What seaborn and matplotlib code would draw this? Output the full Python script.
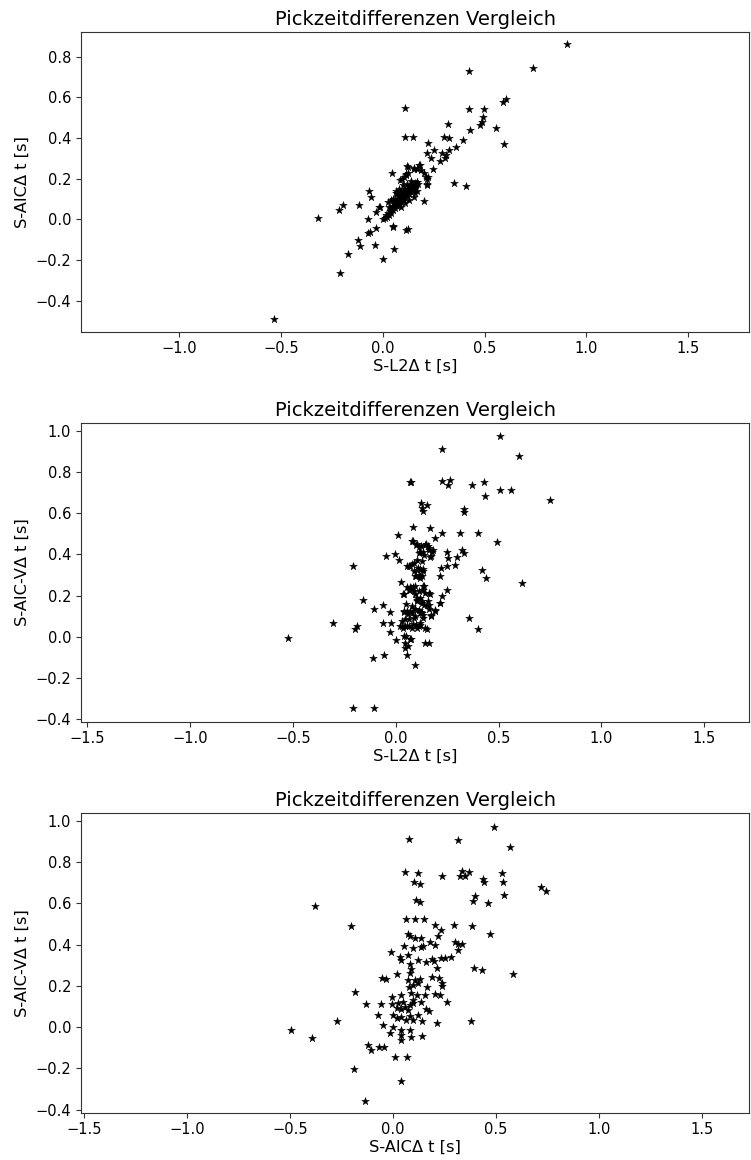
import matplotlib
matplotlib.use("Agg")
import matplotlib.pyplot as plt
import seaborn as sns

# ---------------- data ----------------
# Panel 1: S-L2 dt (x) vs S-AIC dt (y)
p1_x = [0.425, 0.738, 0.905, 0.112, 0.422, 0.499, 0.589, 0.605, 0.494, 0.486, 0.478, 0.322,
        0.430, 0.556, 0.594, 0.109, 0.147, 0.299, 0.327, 0.394, 0.222, 0.361, 0.253, 0.325,
        0.217, 0.289, 0.311, 0.238, 0.307, 0.281, 0.181, 0.125, 0.152, 0.171, 0.245, 0.045,
        0.115, 0.204, 0.083, 0.103, 0.212, 0.217, 0.348, 0.409, 0.217, 0.171, 0.163, -0.069,
        -0.055, 0.066, 0.073, 0.204, 0.026, -0.017, -0.194, -0.214, -0.117, -0.317, -0.032,
        -0.074, 0.053, 0.049, 0.125, 0.117, -0.033, -0.064, -0.073, -0.120, -0.112, -0.038,
        0.057, -0.168, 0.003, -0.210, -0.533,
        0.094, 0.114, 0.125, 0.122, 0.155, 0.179, 0.188, 0.221, 0.216, -0.014, 0.040,
        0.000, 0.010, 0.015, 0.020, 0.025, 0.030, 0.035, 0.040, 0.040, 0.045, 0.050, 0.050,
        0.055, 0.060, 0.060, 0.065, 0.070, 0.070, 0.075, 0.080, 0.080, 0.085, 0.090, 0.090,
        0.095, 0.100, 0.100, 0.105, 0.110, 0.110, 0.115, 0.120, 0.120, 0.125, 0.130, 0.130,
        0.135, 0.140, 0.140, 0.145, 0.150, 0.150, 0.155, 0.160, 0.160, 0.165, 0.170, 0.175,
        0.060, 0.075, 0.090, 0.105, 0.065, 0.081, 0.030, 0.050, 0.100, 0.120, 0.140, 0.155,
        0.130, 0.110, 0.090, 0.170, 0.160]
p1_y = [0.730, 0.745, 0.861, 0.547, 0.541, 0.541, 0.576, 0.591, 0.501, 0.480, 0.463, 0.468,
        0.437, 0.450, 0.370, 0.403, 0.406, 0.406, 0.398, 0.388, 0.375, 0.355, 0.341, 0.341,
        0.324, 0.324, 0.316, 0.303, 0.300, 0.288, 0.267, 0.259, 0.251, 0.246, 0.246, 0.229,
        0.223, 0.226, 0.193, 0.209, 0.209, 0.201, 0.177, 0.164, 0.169, 0.185, 0.173, 0.138,
        0.111, 0.139, 0.128, 0.090, 0.087, 0.062, 0.072, 0.044, 0.070, 0.008, 0.034,
        0.001, -0.031, -0.039, -0.048, -0.054, -0.041, -0.061, -0.066, -0.102, -0.131, -0.125,
        -0.146, -0.172, -0.194, -0.265, -0.488,
        0.201, 0.218, 0.226, 0.262, 0.246, 0.267, 0.242, 0.209, 0.173, 0.062, 0.095,
        0.000, 0.005, 0.020, 0.010, 0.030, 0.020, 0.040, 0.030, 0.050, 0.060, 0.045, 0.065,
        0.075, 0.055, 0.080, 0.070, 0.090, 0.065, 0.085, 0.100, 0.075, 0.095, 0.110, 0.085,
        0.120, 0.100, 0.130, 0.115, 0.140, 0.105, 0.125, 0.150, 0.115, 0.135, 0.160, 0.125,
        0.145, 0.165, 0.135, 0.155, 0.170, 0.145, 0.160, 0.180, 0.155, 0.170, 0.185, 0.175,
        0.100, 0.115, 0.135, 0.150, 0.128, 0.147, 0.060, 0.100, 0.170, 0.175, 0.190, 0.111,
        0.095, 0.080, 0.060, 0.140, 0.130]

# Panel 2: S-L2 dt (x) vs S-AIC-V dt (y)
p2_x = [0.507, 0.224, 0.601, 0.068, 0.074, 0.227, 0.265, 0.252, 0.371, 0.431, 0.434, 0.507,
        0.561, 0.748, 0.122, 0.151, 0.127, 0.134, 0.331, 0.332, 0.084, 0.168, 0.010, 0.224,
        0.313, 0.402, 0.189, 0.084, 0.103, 0.124, 0.155, 0.490, 0.180, 0.172, 0.114, 0.139,
        0.321, 0.334, 0.247, 0.253, 0.297, -0.048, -0.005, 0.015, -0.207, 0.055, 0.079, 0.127,
        0.087, 0.119, 0.221, 0.248, 0.289, 0.095, 0.127, 0.213, 0.418, 0.437, 0.614, 0.028,
        0.055, 0.082, 0.071, 0.140, 0.135, 0.035, 0.095, 0.160, 0.168, 0.248, 0.224, -0.160,
        -0.064, -0.106, -0.029, 0.050, 0.103, 0.140, 0.160, 0.213, 0.189, 0.039, 0.060, 0.079,
        0.111, 0.124, 0.095, 0.135, 0.173, -0.306, 0.357, 0.402, -0.198, -0.187, -0.060,
        -0.021, 0.030, 0.035, 0.057, 0.082, 0.103, 0.119, 0.151, 0.111, -0.029, 0.040, 0.074,
        0.003, 0.047, 0.058, 0.044, 0.144, 0.163, -0.522, -0.110, -0.055, 0.055, 0.095,
        -0.207, -0.106,
        0.071, 0.111, 0.120, 0.103, 0.127, 0.156, 0.079, 0.055, 0.095, 0.120, 0.063, 0.087,
        0.135, 0.098, 0.079, 0.047, 0.030, 0.111, 0.149, 0.120, 0.160, 0.071, 0.103, 0.135,
        0.111, 0.120,
        0.079, 0.098, 0.144, 0.160, 0.135, 0.176, 0.168, 0.103, 0.087, 0.063, 0.108, 0.131,
        0.098, 0.119, 0.076, 0.095, 0.135, 0.063, 0.087, 0.144, 0.039, 0.103, 0.127, 0.151,
        0.039, 0.071, 0.092, 0.160, 0.127, 0.044, 0.023, 0.063, 0.119, 0.144, 0.050, 0.071,
        0.173, 0.189, 0.216]
p2_y = [0.974, 0.912, 0.879, 0.753, 0.750, 0.758, 0.764, 0.735, 0.737, 0.751, 0.682, 0.713,
        0.713, 0.664, 0.651, 0.640, 0.624, 0.611, 0.619, 0.608, 0.532, 0.527, 0.495, 0.503,
        0.503, 0.503, 0.479, 0.466, 0.451, 0.442, 0.443, 0.461, 0.419, 0.390, 0.406, 0.398,
        0.419, 0.409, 0.414, 0.382, 0.385, 0.390, 0.403, 0.374, 0.342, 0.345, 0.355, 0.366,
        0.317, 0.329, 0.334, 0.345, 0.346, 0.293, 0.297, 0.293, 0.326, 0.287, 0.263, 0.264,
        0.240, 0.240, 0.229, 0.245, 0.229, 0.209, 0.205, 0.213, 0.205, 0.225, 0.200, 0.177,
        0.153, 0.132, 0.119, 0.161, 0.172, 0.156, 0.156, 0.164, 0.129, 0.119, 0.108, 0.116,
        0.129, 0.122, 0.100, 0.103, 0.103, 0.068, 0.089, 0.039, 0.039, 0.051, 0.064,
        0.064, 0.075, 0.044, 0.051, 0.060, 0.044, 0.068, 0.039, 0.051, 0.022, 0.003, -0.010,
        -0.018, -0.029, -0.045, -0.055, -0.032, -0.032, -0.007, -0.102, -0.087, -0.087, -0.139,
        -0.348, -0.345,
        0.242, 0.221, 0.188, 0.180, 0.164, 0.172, 0.148, 0.124, 0.132, 0.116, 0.084, 0.092,
        0.092, 0.055, 0.044, 0.051, 0.051, 0.438, 0.450, 0.414, 0.422, 0.342, 0.326, 0.317,
        0.301, 0.285,
        0.463, 0.447, 0.447, 0.431, 0.414, 0.414, 0.387, 0.374, 0.358, 0.345, 0.334, 0.329,
        0.293, 0.293, 0.237, 0.245, 0.245, 0.229, 0.221, 0.213, 0.205, 0.189, 0.172, 0.156,
        0.124, 0.124, 0.132, 0.132, 0.116, 0.084, 0.051, 0.051, 0.055, 0.044, 0.003, -0.013,
        0.100, 0.124, 0.164]

# Panel 3: S-AIC dt (x) vs S-AIC-V dt (y)
p3_x = [0.492, 0.080, 0.315, 0.570, 0.056, 0.122, 0.101, 0.133, 0.239, 0.334, 0.326, 0.350,
        0.368, 0.436, 0.442, 0.532, 0.534, 0.540, 0.719, 0.742, 0.400, 0.391, 0.461, 0.114,
        0.133, -0.381, 0.065, 0.106, 0.151, -0.202, 0.204, 0.231, 0.296, 0.384, 0.473, 0.075,
        0.082, 0.109, 0.135, 0.218, 0.178, 0.202, 0.146, 0.135, 0.098, 0.053, 0.299, 0.315,
        0.334, 0.315, -0.009, 0.033, 0.038, 0.073, 0.122, 0.159, 0.189, 0.199, 0.234, 0.251,
        0.280, 0.082, 0.086, 0.085, 0.215, 0.396, 0.431, 0.584, 0.017, -0.052, -0.034,
        0.073, 0.106, 0.133, 0.122, 0.098, 0.078, 0.165, 0.189, 0.223, 0.239, 0.239, 0.205,
        0.228, -0.183, 0.086, 0.118, 0.154, 0.138, 0.098, -0.004, 0.038, -0.131, -0.057,
        -0.004, 0.022, 0.049, 0.057, 0.017, 0.041, 0.082, 0.098, 0.073, 0.162, 0.173, 0.260,
        -0.073, 0.001, 0.017, 0.041, 0.065, 0.082, 0.098, 0.122, 0.141, -0.273, 0.212, 0.381,
        -0.047, -0.002, 0.041, 0.082, -0.015, -0.495, -0.395, 0.038, 0.038, 0.086, 0.143,
        -0.120, -0.109, -0.068, -0.043, 0.011, 0.067, -0.191, 0.040, -0.134]
p3_y = [0.969, 0.909, 0.908, 0.872, 0.749, 0.747, 0.703, 0.695, 0.731, 0.755, 0.731, 0.731,
        0.752, 0.719, 0.703, 0.747, 0.705, 0.642, 0.679, 0.661, 0.633, 0.613, 0.603, 0.617,
        0.606, 0.587, 0.525, 0.525, 0.522, 0.490, 0.496, 0.472, 0.496, 0.491, 0.452, 0.451,
        0.439, 0.431, 0.434, 0.439, 0.410, 0.399, 0.394, 0.386, 0.383, 0.394, 0.410, 0.404,
        0.404, 0.374, 0.363, 0.342, 0.326, 0.347, 0.326, 0.317, 0.331, 0.321, 0.334, 0.337,
        0.342, 0.305, 0.282, 0.261, 0.288, 0.288, 0.279, 0.256, 0.258, 0.237, 0.233,
        0.228, 0.228, 0.232, 0.213, 0.204, 0.196, 0.196, 0.245, 0.237, 0.215, 0.200, 0.159,
        0.156, 0.170, 0.164, 0.156, 0.156, 0.123, 0.131, 0.147, 0.154, 0.110, 0.110,
        0.110, 0.118, 0.123, 0.099, 0.091, 0.086, 0.107, 0.118, 0.083, 0.088, 0.079, 0.120,
        0.057, 0.058, 0.042, 0.050, 0.034, 0.053, 0.034, 0.058, 0.031, 0.028, 0.021, 0.031,
        0.010, -0.001, -0.015, -0.015, -0.028, -0.015, -0.052, -0.039, -0.063, -0.047, -0.042,
        -0.089, -0.112, -0.097, -0.097, -0.144, -0.146, -0.203, -0.262, -0.360]

title = "Pickzeitdifferenzen Vergleich"
xlabels = ["S-L2\u0394 t [s]", "S-L2\u0394 t [s]", "S-AIC\u0394 t [s]"]
ylabels = ["S-AIC\u0394 t [s]", "S-AIC-V\u0394 t [s]", "S-AIC-V\u0394 t [s]"]

# ---------------- figure ----------------
sns.set_style("ticks")
plt.rcParams["font.family"] = ["DejaVu Sans"]
plt.rcParams["axes.edgecolor"] = "#333333"
plt.rcParams["axes.linewidth"] = 0.8
plt.rcParams["text.color"] = "black"
plt.rcParams["axes.labelcolor"] = "black"
plt.rcParams["xtick.labelcolor"] = "black"
plt.rcParams["ytick.labelcolor"] = "black"

fig = plt.figure(figsize=(7.51, 11.6), dpi=100)
boxes = [[0.1079, 0.7140, 0.8900, 0.2581],
         [0.1079, 0.3778, 0.8900, 0.2572],
         [0.1079, 0.0409, 0.8900, 0.2582]]
xlims = [(-1.48, 1.80), (-1.529, 1.719), (-1.516, 1.732)]
ylims = [(-0.552, 0.919), (-0.414, 1.037), (-0.414, 1.037)]
data = [(p1_x, p1_y), (p2_x, p2_y), (p3_x, p3_y)]

for i in range(3):
    ax = fig.add_axes(boxes[i])
    xs, ys = data[i]
    sns.scatterplot(x=xs, y=ys, marker="*", color="black", s=34,
                    edgecolor="black", linewidth=0.3, ax=ax)
    ax.set_xlim(*xlims[i])
    ax.set_ylim(*ylims[i])
    ax.set_title(title, fontsize=14, pad=5, color="black")
    ax.set_xlabel(xlabels[i], fontsize=11.7, labelpad=2)
    ax.set_ylabel(ylabels[i], fontsize=11.7, labelpad=4)
    ax.tick_params(axis="both", labelsize=10.5, length=3.5, width=0.8, color="#333333")
    for sp in ax.spines.values():
        sp.set_visible(True)

fig.savefig("out.png", dpi=100)
